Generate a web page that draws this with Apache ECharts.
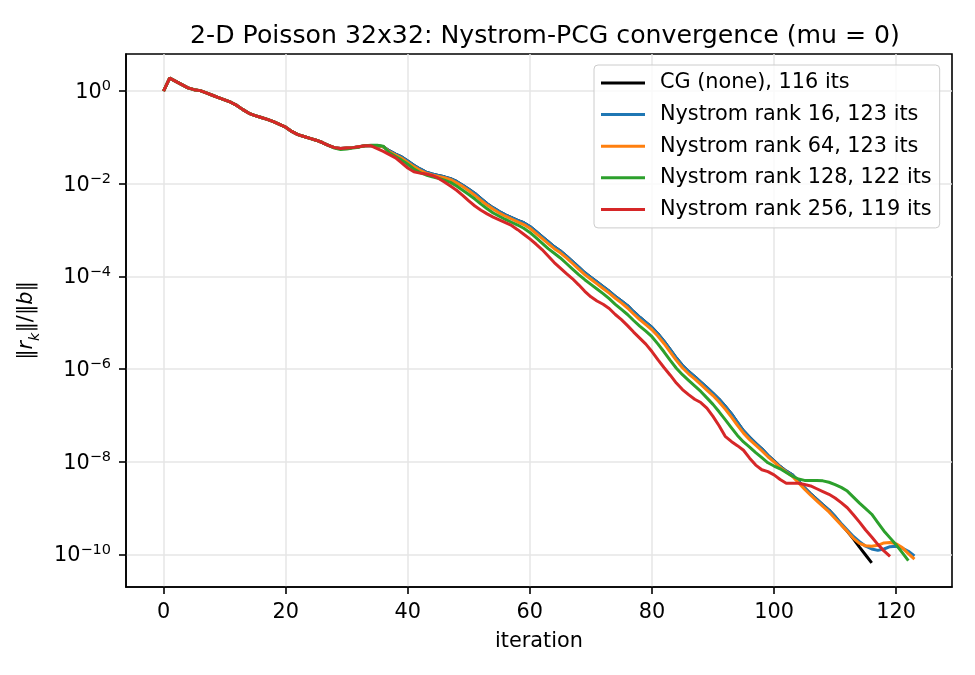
<!DOCTYPE html>
<html>
<head>
<meta charset="utf-8">
<script src="https://cdn.jsdelivr.net/npm/echarts@6/dist/echarts.min.js"></script>
<style>
  html, body { margin: 0; padding: 0; background: #fff; }
  #chart { width: 975px; height: 675px; }
</style>
</head>
<body>
<div id="chart"></div>
<script>
// log10(||r_k|| / ||b||) per iteration
const logCG = [
  0, 0.28, 0.21, 0.14, 0.07, 0.03, 0.01, -0.04, -0.09, -0.14,
  -0.19, -0.24, -0.31, -0.40, -0.48, -0.53, -0.57, -0.61, -0.66, -0.72,
  -0.78, -0.87, -0.94, -0.98, -1.02, -1.06, -1.11, -1.17, -1.22, -1.24,
  -1.23, -1.22, -1.20, -1.18, -1.18, -1.18, -1.20, -1.29, -1.36, -1.42,
  -1.51, -1.60, -1.68, -1.75, -1.79, -1.82, -1.85, -1.89, -1.95, -2.03,
  -2.12, -2.21, -2.32, -2.43, -2.52, -2.60, -2.67, -2.73, -2.79, -2.84,
  -2.92, -3.03, -3.14, -3.25, -3.36, -3.45, -3.56, -3.68, -3.80, -3.92,
  -4.02, -4.12, -4.22, -4.32, -4.43, -4.53, -4.63, -4.76, -4.88, -4.99,
  -5.10, -5.24, -5.40, -5.58, -5.76, -5.92, -6.05, -6.16, -6.28, -6.40,
  -6.52, -6.65, -6.80, -6.96, -7.15, -7.33, -7.47, -7.60, -7.72, -7.86,
  -7.98, -8.10, -8.20, -8.28, -8.42, -8.56, -8.69, -8.81, -8.93, -9.04,
  -9.18, -9.35, -9.50, -9.66, -9.84, -10.01, -10.18
]
const logR16 = [
  0, 0.28, 0.21, 0.14, 0.07, 0.03, 0.01, -0.04, -0.09, -0.14,
  -0.19, -0.24, -0.31, -0.40, -0.48, -0.53, -0.57, -0.61, -0.66, -0.72,
  -0.78, -0.87, -0.94, -0.98, -1.02, -1.06, -1.11, -1.17, -1.22, -1.24,
  -1.23, -1.22, -1.20, -1.18, -1.18, -1.18, -1.20, -1.29, -1.36, -1.42,
  -1.51, -1.60, -1.68, -1.75, -1.79, -1.82, -1.85, -1.89, -1.95, -2.03,
  -2.12, -2.21, -2.32, -2.43, -2.52, -2.60, -2.67, -2.73, -2.79, -2.84,
  -2.92, -3.03, -3.14, -3.25, -3.36, -3.45, -3.56, -3.68, -3.80, -3.92,
  -4.02, -4.12, -4.22, -4.32, -4.43, -4.53, -4.63, -4.76, -4.88, -4.99,
  -5.10, -5.24, -5.40, -5.58, -5.76, -5.92, -6.05, -6.16, -6.28, -6.40,
  -6.52, -6.65, -6.80, -6.96, -7.15, -7.33, -7.47, -7.60, -7.72, -7.86,
  -7.98, -8.10, -8.20, -8.28, -8.42, -8.56, -8.69, -8.81, -8.93, -9.04,
  -9.18, -9.33, -9.47, -9.61, -9.72, -9.82, -9.88, -9.91, -9.88, -9.83,
  -9.82, -9.86, -9.93, -10.03
]
const logR64 = [
  0, 0.28, 0.21, 0.14, 0.07, 0.03, 0.01, -0.04, -0.09, -0.14,
  -0.19, -0.24, -0.31, -0.40, -0.48, -0.53, -0.57, -0.61, -0.66, -0.72,
  -0.78, -0.87, -0.94, -0.98, -1.02, -1.06, -1.11, -1.17, -1.22, -1.24,
  -1.23, -1.22, -1.20, -1.18, -1.18, -1.18, -1.20, -1.31, -1.38, -1.45,
  -1.54, -1.63, -1.71, -1.77, -1.81, -1.84, -1.87, -1.91, -1.98, -2.06,
  -2.15, -2.25, -2.36, -2.46, -2.55, -2.63, -2.70, -2.76, -2.82, -2.88,
  -2.96, -3.07, -3.18, -3.29, -3.40, -3.49, -3.60, -3.72, -3.84, -3.96,
  -4.06, -4.16, -4.26, -4.36, -4.47, -4.57, -4.68, -4.81, -4.93, -5.04,
  -5.15, -5.29, -5.45, -5.63, -5.81, -5.97, -6.10, -6.21, -6.33, -6.45,
  -6.57, -6.71, -6.86, -7.03, -7.21, -7.38, -7.52, -7.64, -7.76, -7.89,
  -8.00, -8.12, -8.22, -8.31, -8.45, -8.59, -8.72, -8.84, -8.96, -9.08,
  -9.22, -9.36, -9.50, -9.65, -9.76, -9.81, -9.82, -9.80, -9.75, -9.74,
  -9.77, -9.85, -9.98, -10.10
]
const logR128 = [
  0, 0.28, 0.21, 0.14, 0.07, 0.03, 0.01, -0.04, -0.09, -0.14,
  -0.19, -0.24, -0.31, -0.40, -0.48, -0.53, -0.57, -0.61, -0.66, -0.72,
  -0.78, -0.87, -0.94, -0.98, -1.02, -1.06, -1.11, -1.17, -1.23, -1.26,
  -1.25, -1.23, -1.21, -1.18, -1.17, -1.17, -1.19, -1.33, -1.41, -1.49,
  -1.58, -1.68, -1.76, -1.81, -1.85, -1.88, -1.92, -1.97, -2.05, -2.14,
  -2.23, -2.33, -2.44, -2.54, -2.63, -2.70, -2.77, -2.83, -2.89, -2.96,
  -3.05, -3.16, -3.28, -3.40, -3.50, -3.60, -3.72, -3.84, -3.96, -4.07,
  -4.17, -4.27, -4.37, -4.48, -4.60, -4.71, -4.82, -4.95, -5.07, -5.18,
  -5.30, -5.46, -5.63, -5.81, -5.98, -6.12, -6.24, -6.36, -6.48, -6.62,
  -6.76, -6.92, -7.09, -7.26, -7.43, -7.57, -7.68, -7.80, -7.91, -8.02,
  -8.09, -8.15, -8.23, -8.31, -8.37, -8.40, -8.40, -8.40, -8.41, -8.44,
  -8.49, -8.55, -8.63, -8.76, -8.89, -9.01, -9.13, -9.31, -9.49, -9.64,
  -9.79, -9.96, -10.13
]
const logR256 = [
  0, 0.28, 0.21, 0.14, 0.07, 0.03, 0.01, -0.04, -0.09, -0.14,
  -0.19, -0.24, -0.31, -0.40, -0.48, -0.53, -0.57, -0.61, -0.66, -0.72,
  -0.78, -0.87, -0.94, -0.98, -1.02, -1.06, -1.11, -1.17, -1.22, -1.24,
  -1.23, -1.22, -1.20, -1.18, -1.18, -1.24, -1.30, -1.37, -1.44, -1.55,
  -1.66, -1.74, -1.77, -1.79, -1.82, -1.88, -1.96, -2.05, -2.14, -2.25,
  -2.37, -2.48, -2.57, -2.65, -2.72, -2.78, -2.84, -2.90, -2.99, -3.09,
  -3.19, -3.30, -3.42, -3.56, -3.70, -3.82, -3.94, -4.05, -4.18, -4.32,
  -4.44, -4.53, -4.60, -4.69, -4.82, -4.93, -5.06, -5.20, -5.33, -5.46,
  -5.62, -5.80, -5.97, -6.13, -6.30, -6.44, -6.55, -6.65, -6.72, -6.84,
  -7.02, -7.22, -7.45, -7.56, -7.65, -7.75, -7.92, -8.07, -8.17, -8.21,
  -8.28, -8.38, -8.46, -8.46, -8.46, -8.49, -8.52, -8.58, -8.64, -8.70,
  -8.78, -8.88, -8.99, -9.14, -9.30, -9.47, -9.62, -9.78, -9.92, -10.04
]

const seriesNames = [
  'CG (none), 116 its',
  'Nystrom rank 16, 123 its',
  'Nystrom rank 64, 123 its',
  'Nystrom rank 128, 122 its',
  'Nystrom rank 256, 119 its'
]
const seriesLogs = [logCG, logR16, logR64, logR128, logR256]
const colors = ['#000000', '#1f77b4', '#ff7f0e', '#2ca02c', '#d62728']

const xTicks = [0, 20, 40, 60, 80, 100, 120]
const yTicks = [1e-10, 1e-8, 1e-6, 1e-4, 1e-2, 1]

const FONT = 'DejaVu Sans'
const FS = 20.8

function toPoints(logs) {
  return logs.map((e, i) => [i, Math.pow(10, e)])
}

function yLabel(v) {
  const p = Math.round(Math.log10(v))
  return '{b|10}{s|' + (p < 0 ? '\u2212' + (-p) : p) + '}'
}

const chart = echarts.init(document.getElementById('chart'), null, { renderer: 'canvas' })

chart.setOption({
  animation: false,
  backgroundColor: '#fff',
  color: colors,
  textStyle: { fontFamily: FONT },
  title: {
    text: '2-D Poisson 32x32: Nystrom-PCG convergence (mu = 0)',
    left: 540,
    textAlign: 'center',
    top: 19,
    textStyle: { fontFamily: FONT, fontSize: 25.2, fontWeight: 'normal', color: '#000' }
  },
  legend: {
    data: seriesNames,
    orient: 'vertical',
    left: 594,
    top: 65,
    padding: [6.5, 8, 7, 7],
    itemGap: 8.6,
    itemWidth: 44,
    itemHeight: 3,
    icon: 'rect',
    borderColor: '#cccccc',
    borderWidth: 1,
    borderRadius: 4,
    backgroundColor: 'rgba(255,255,255,0.8)',
    textStyle: { fontFamily: FONT, fontSize: FS, color: '#000', lineHeight: 23, padding: [0, 0, 0, 10] }
  },
  grid: {
    left: 126, right: 23, top: 54, bottom: 88,
    show: true, borderColor: '#000', borderWidth: 1.6,
    containLabel: false
  },
  xAxis: {
    type: 'value',
    min: -6.15,
    max: 129.15,
    name: 'iteration',
    nameLocation: 'middle',
    nameGap: 44,
    nameTextStyle: { fontFamily: FONT, fontSize: FS, color: '#000' },
    axisLine: { show: true, onZero: false, lineStyle: { color: '#000', width: 1.6 } },
    axisTick: { show: true, inside: false, length: 7, customValues: xTicks, lineStyle: { color: '#000', width: 1.6 } },
    axisLabel: { customValues: xTicks, margin: 15, fontFamily: FONT, fontSize: FS, color: '#000' },
    splitLine: { show: true, lineStyle: { color: '#e6e6e6', width: 1.5 } }
  },
  yAxis: {
    type: 'log',
    logBase: 10,
    min: Math.pow(10, -10.7),
    max: Math.pow(10, 0.8),
    name: '{t|\u2016}{i|r}{k|k}{t|\u2016/\u2016}{i|b}{t|\u2016}',
    nameLocation: 'middle',
    nameRotate: 90,
    nameGap: 80,
    nameTextStyle: {
      color: '#000',
      rich: {
        t: { fontFamily: FONT, fontSize: FS, color: '#000', lineHeight: 24 },
        i: { fontFamily: FONT, fontSize: FS, fontStyle: 'italic', color: '#000', lineHeight: 24 },
        k: { fontFamily: FONT, fontSize: 14.5, fontStyle: 'italic', color: '#000', lineHeight: 24, verticalAlign: 'bottom', padding: [0, 0, -4, 0] }
      }
    },
    axisLine: { show: true, onZero: false, lineStyle: { color: '#000', width: 1.6 } },
    axisTick: { show: true, inside: false, length: 7, customValues: yTicks, lineStyle: { color: '#000', width: 1.6 } },
    axisLabel: {
      customValues: yTicks,
      margin: 15,
      formatter: yLabel,
      rich: {
        b: { fontFamily: FONT, fontSize: FS, color: '#000', lineHeight: 24, verticalAlign: 'bottom' },
        s: { fontFamily: FONT, fontSize: 14.5, color: '#000', lineHeight: 15, verticalAlign: 'top' }
      }
    },
    splitLine: { show: true, lineStyle: { color: '#e6e6e6', width: 1.5 } },
    minorTick: { show: false },
    minorSplitLine: { show: false }
  },
  series: seriesLogs.map((logs, i) => ({
    name: seriesNames[i],
    type: 'line',
    data: toPoints(logs),
    showSymbol: false,
    symbol: 'none',
    clip: true,
    lineStyle: { width: 3, color: colors[i] },
    itemStyle: { color: colors[i] }
  }))
})
</script>
</body>
</html>
